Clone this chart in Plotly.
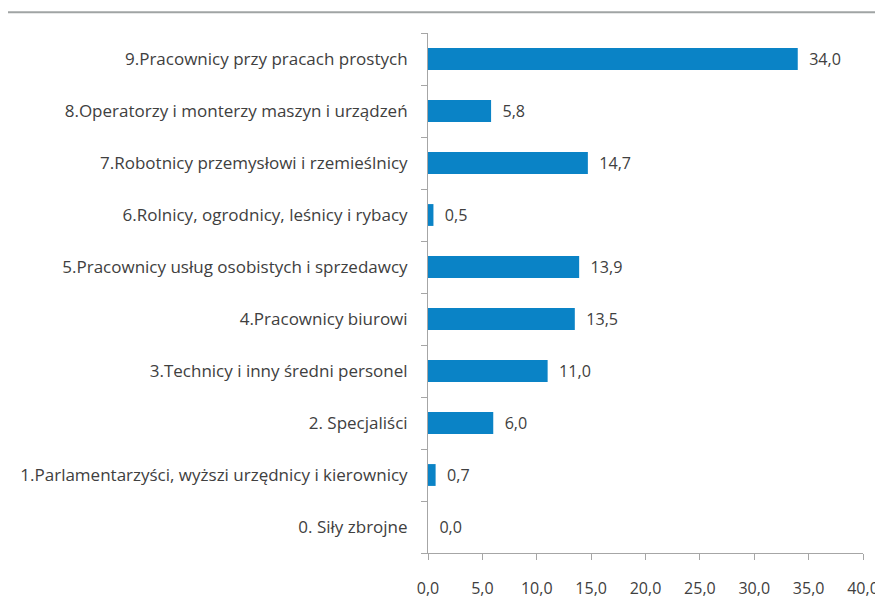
import plotly.graph_objs as go

# ==========================
# DATA
# ==========================
categories = [
    "0. Siły zbrojne",
    "1.Parlamentarzyści, wyższi urzędnicy i kierownicy",
    "2. Specjaliści",
    "3.Technicy i inny średni personel",
    "4.Pracownicy biurowi",
    "5.Pracownicy usług osobistych i sprzedawcy",
    "6.Rolnicy, ogrodnicy, leśnicy i rybacy",
    "7.Robotnicy przemysłowi i rzemieślnicy",
    "8.Operatorzy i monterzy maszyn i urządzeń",
    "9.Pracownicy przy pracach prostych",
]
values = [0.0, 0.7, 6.0, 11.0, 13.5, 13.9, 0.5, 14.7, 5.8, 34.0]
x_ticks = [0, 5, 10, 15, 20, 25, 30, 35, 40]

FONT = "Open Sans, Noto Sans, sans-serif"
TXT = "#404040"
AXIS = "#a6a6a6"

# ==========================
# BAR CHART
# (page body has an 8px margin, so the figure is sized/placed to compensate)
# ==========================
fig = go.Figure()
fig.add_trace(go.Bar(
    y=categories, x=values, orientation="h",
    marker=dict(color="#0A83C6", line=dict(width=0)),
    texttemplate="  %{x:.1f}", textposition="outside",
    textfont=dict(size=17, color=TXT, family=FONT),
    cliponaxis=False,
))

fig.update_layout(
    template="none",
    width=875, height=598,
    margin=dict(l=420, r=20, t=25, b=53),
    paper_bgcolor="white", plot_bgcolor="white",
    separators=", ",
    showlegend=False,
    bargap=0.58,
    font=dict(family=FONT, size=16, color=TXT),
    xaxis=dict(
        range=[0, 40], tickvals=x_ticks, tickformat=".1f",
        showgrid=False, zeroline=False, automargin=False,
        showline=True, linecolor=AXIS, linewidth=1,
        ticks="outside", ticklen=6, tickcolor=AXIS,
        tickfont=dict(size=16, color=TXT), ticklabelstandoff=15,
    ),
    yaxis=dict(
        type="category", categoryorder="array", categoryarray=categories,
        showgrid=False, zeroline=False, automargin=False,
        showline=True, linecolor=AXIS, linewidth=1,
        ticks="outside", ticklen=6, tickcolor=AXIS, tickson="boundaries",
        tickfont=dict(size=17, color=TXT), ticklabelstandoff=16,
    ),
    shapes=[dict(
        type="line", xref="paper", yref="paper",
        x0=-0.966, x1=1.05, y0=1.04, y1=1.04,
        line=dict(color="#a0a4a4", width=2),
    )],
)

fig.write_html("out.html")
